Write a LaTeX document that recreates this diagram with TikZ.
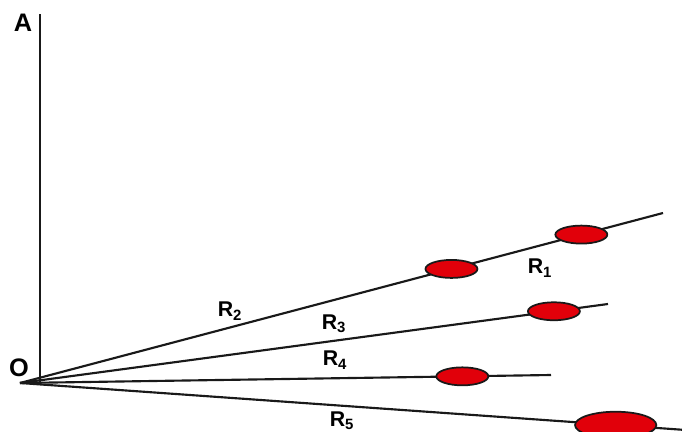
\documentclass[tikz,border=0pt]{standalone}
\usepackage{fontspec}
\setmainfont{Liberation Sans}
\usepackage{tikz}
\usetikzlibrary{positioning,calc,shapes.geometric}
\definecolor{BeadRed}{RGB}{225,0,10}
\tikzset{
	ray/.style={draw=black!90,line width=1.6pt},
	axis/.style={draw=black!90,line width=1.9pt},
	bead/.style={ellipse,draw=black!90,fill=BeadRed,line width=1.3pt,inner sep=0pt,
		minimum width=39pt,minimum height=13.5pt},
	bigbead/.style={bead,minimum width=61pt,minimum height=20pt},
	lab/.style={font=\fontsize{16}{16}\selectfont\bfseries,inner sep=0pt},
	biglab/.style={font=\fontsize{19}{19}\selectfont\bfseries,inner sep=0pt},
}

\begin{document}
\begin{tikzpicture}[x=0.75pt,y=-0.75pt]
			\useasboundingbox (0,0) rectangle (682,432);
			\coordinate (o) at (20,383);
			\coordinate (top) at (40,14);
			\coordinate (foot) at (40,383);
			\coordinate (e1) at (663,213);
			\coordinate (e3) at (608,304);
			\coordinate (e4) at (551,375);
			\coordinate (e5) at (700,431);
			\draw[axis] (foot)--(top);
			\draw[ray] (o)--(e1);
			\draw[ray] (o)--(e3);
			\draw[ray] (o)--(e4);
			\draw[ray] (o)--(e5);
			\node[bead] (b2) at ($(o)!0.671!(e1)$) {};
			\node[bead] (b1) at ($(o)!0.873!(e1)$) {};
			\node[bead] (b3) at ($(o)!0.908!(e3)$) {};
			\node[bead] (b4) at ($(o)!0.833!(e4)$) {};
			\node[bigbead] (b5) at ($(o)!0.876!(e5)$) {};
			\node[biglab] (A) at (23,23) {A};
			\node[biglab] (O) at (19,368) {O};
			\node[lab] (R1) at (540,268) {R\textsubscript{1}};
			\node[lab] (R2) at (230,311) {R\textsubscript{2}};
			\node[lab] (R3) at (334,324) {R\textsubscript{3}};
			\node[lab] (R4) at (335,360) {R\textsubscript{4}};
			\node[lab] (R5) at (342,421) {R\textsubscript{5}};
		\end{tikzpicture}
\end{document}
